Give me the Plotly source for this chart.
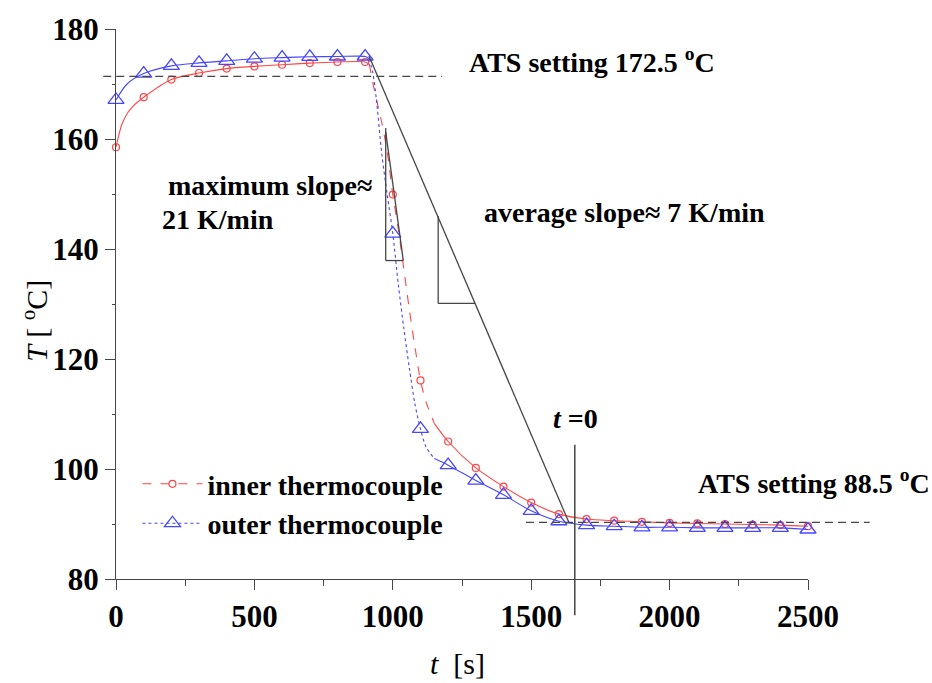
import plotly.graph_objects as go

# ---------------- data ----------------
marker_t = [0, 100, 200, 300, 400, 500, 600, 700, 800, 900, 1000, 1100, 1200,
            1300, 1400, 1500, 1600, 1700, 1800, 1900, 2000, 2100, 2200, 2300, 2400, 2500]
inner_T = [158.5, 167.6, 170.8, 172.0, 172.8, 173.2, 173.5, 173.8, 174.0, 174.0,
           149.9, 116.1, 105.0, 100.2, 96.8, 93.9, 91.8, 90.9, 90.6, 90.4,
           90.2, 90.1, 90.0, 89.9, 89.8, 89.6]
outer_T = [167.1, 171.9, 173.3, 173.85, 174.2, 174.6, 174.8, 174.95, 175.0, 175.0,
           142.8, 107.3, 100.7, 97.9, 95.3, 92.4, 90.5, 89.8, 89.6, 89.4,
           89.4, 89.3, 89.3, 89.3, 89.3, 89.0]

# extra samples of the continuous records (between the marked points)
inner_extra_t = [20, 40, 60, 80, 915, 935, 960, 980, 1020, 1040, 1060, 1080, 1120, 1150]
inner_extra_T = [162.5, 164.6, 165.9, 166.8, 173.6, 168.5, 163.0, 157.6, 143.6, 136.3,
                 128.9, 122.2, 112.2, 108.3]
outer_extra_t = [40, 915, 928, 940, 960, 980, 1020, 1040, 1060, 1080, 1120, 1150]
outer_extra_T = [170.0, 174.6, 172.0, 167.5, 157.4, 149.8, 133.5, 125.5, 118.3, 111.8, 104.0, 101.9]

# transient window where the records are drawn broken (dashed / dotted)
drop_window = [915, 1150]

# reference lines / annotations
ats_high, ats_high_span = 171.4, [-46, 1178]
ats_low, ats_low_span = 90.3, [1481, 2723]
avg_line_t, avg_line_T = [914, 1636], [175.1, 90.3]
avg_tri_t, avg_tri_T = [1164, 1297.5], [146.0, 130.1]
max_tri_t, max_tri_T = [974.4, 1037.9], [162.0, 137.9]
max_hyp_top = 161.3
t0_time, t0_span = 1657.5, [104.4, 73.4]

X_RANGE = [0, 2500]
Y_RANGE = [80, 180]
x_ticks = [0, 500, 1000, 1500, 2000, 2500]
y_ticks = [80, 100, 120, 140, 160, 180]

RED = "rgb(255,70,70)"
BLUE = "rgb(70,70,255)"
GREY = "rgb(70,70,70)"
FONT = "Liberation Serif"


def merged(ts, vs, ets, evs):
    d = dict(zip(ts, vs))
    d.update(dict(zip(ets, evs)))
    keys = sorted(d)
    return keys, [d[k] for k in keys]


def pieces(ts, vs, lo, hi):
    a = [(t, v) for t, v in zip(ts, vs) if t <= lo]
    b = [(t, v) for t, v in zip(ts, vs) if lo <= t <= hi]
    c = [(t, v) for t, v in zip(ts, vs) if t >= hi]
    return [list(zip(*p)) for p in (a, b, c)]


def px(x):
    return (x - X_RANGE[0]) / (X_RANGE[1] - X_RANGE[0])


def py(y):
    return (y - Y_RANGE[0]) / (Y_RANGE[1] - Y_RANGE[0])


fig = go.Figure()

series = [
    ("inner thermocouple", inner_T, inner_extra_t, inner_extra_T, RED, "dash",
     dict(symbol="circle-open", size=7, color=RED, line=dict(width=1.2, color=RED))),
    ("outer thermocouple", outer_T, outer_extra_t, outer_extra_T, BLUE, "dot",
     dict(symbol="triangle-up-open", size=14, color=BLUE, line=dict(width=1.3, color=BLUE))),
]

for name, vals, et, ev, col, dsh, mk in series:
    lt, lv = merged(marker_t, vals, et, ev)
    for i, (pt, pv) in enumerate(pieces(lt, lv, *drop_window)):
        fig.add_trace(go.Scatter(
            x=pt, y=pv, mode="lines", showlegend=False, hoverinfo="skip",
            line=dict(color=col, width=1.1, shape="spline", smoothing=0.8,
                      dash=dsh if i == 1 else "solid")))
    fig.add_trace(go.Scatter(x=marker_t, y=vals, mode="markers", marker=mk,
                             showlegend=False, cliponaxis=False))
    # legend entry
    fig.add_trace(go.Scatter(x=[None], y=[None], mode="lines+markers", name=name,
                             marker=mk, line=dict(color=col, width=1.1, dash=dsh)))

shapes = []


def seg(x0, y0, x1, y1, dash="solid", width=1.3, color=GREY):
    shapes.append(dict(type="line", xref="paper", yref="paper",
                       x0=px(x0), y0=py(y0), x1=px(x1), y1=py(y1),
                       line=dict(color=color, width=width, dash=dash)))


seg(ats_high_span[0], ats_high, ats_high_span[1], ats_high, dash="8px,5px", width=1.3)
seg(ats_low_span[0], ats_low, ats_low_span[1], ats_low, dash="8px,5px", width=1.3)
seg(avg_line_t[0], avg_line_T[0], avg_line_t[1], avg_line_T[1])
seg(avg_tri_t[0], avg_tri_T[0], avg_tri_t[0], avg_tri_T[1])
seg(avg_tri_t[0], avg_tri_T[1], avg_tri_t[1], avg_tri_T[1])
seg(max_tri_t[0], max_tri_T[0], max_tri_t[0], max_tri_T[1])
seg(max_tri_t[0], max_tri_T[1], max_tri_t[1], max_tri_T[1])
seg(max_tri_t[0], max_hyp_top, max_tri_t[1], max_tri_T[1])
seg(t0_time, t0_span[0], t0_time, t0_span[1], width=1.5)

bold = dict(family=FONT, size=28, color="black", weight="bold")
tickbold = dict(family=FONT, size=31, color="black", weight="bold")
reg = dict(family=FONT, size=30, color="black")

annotations = [
    dict(x=1266.7, y=174.2, text="ATS setting 172.5 <sup>o</sup>C", xanchor="left"),
    dict(x=2094, y=97.8, text="ATS setting 88.5 <sup>o</sup>C", xanchor="left"),
    dict(x=180.5, y=151.6, text="maximum slope\u2248", xanchor="left"),
    dict(x=157.3, y=145.3, text="21 K/min", xanchor="left"),
    dict(x=1323, y=146.6, text="average slope\u2248 7 K/min", xanchor="left"),
    dict(x=1661, y=109.1, text="<i>t</i> =0", xanchor="center"),
]
for a in annotations:
    a.update(xref="x", yref="y", yanchor="middle", showarrow=False, font=bold)

annotations.append(dict(xref="paper", yref="paper", x=px(1232), y=py(64.7),
                        text="<i>t</i>  [s]", showarrow=False, font=reg,
                        xanchor="center", yanchor="middle"))
annotations.append(dict(xref="paper", yref="paper", x=-0.118, y=0.47,
                        text="<i>T</i> [ <sup>o</sup>C]", showarrow=False, font=reg,
                        textangle=-90, xanchor="center", yanchor="middle"))

axis_common = dict(showline=True, linecolor=GREY, linewidth=1.3, ticks="outside",
                   tickcolor=GREY, tickwidth=1.3, ticklen=10, showgrid=False,
                   zeroline=False, tickfont=tickbold)

fig.update_layout(
    width=932, height=683,
    margin=dict(l=116, r=124, t=25, b=104),
    paper_bgcolor="white", plot_bgcolor="white",
    xaxis=dict(range=X_RANGE, tickvals=x_ticks, **axis_common,
               minor=dict(ticks="outside", ticklen=6, tickcolor=GREY, tickwidth=1.2,
                          dtick=250, tick0=0)),
    yaxis=dict(range=Y_RANGE, tickvals=y_ticks, **axis_common,
               minor=dict(ticks="outside", ticklen=3, tickcolor=GREY, tickwidth=1.2,
                          dtick=10, tick0=0)),
    shapes=shapes,
    annotations=annotations,
    legend=dict(x=0.031, y=0.218, xanchor="left", yanchor="top",
                font=bold, bgcolor="rgba(0,0,0,0)", tracegroupgap=0,
                itemwidth=60),
    showlegend=True,
)

fig.write_html("out.html")
